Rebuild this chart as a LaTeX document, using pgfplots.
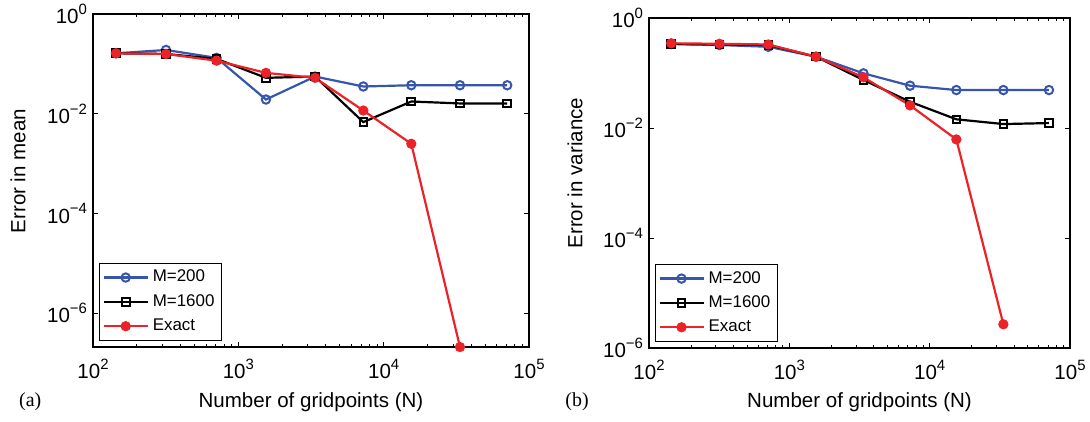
\documentclass[border=0pt]{standalone}
\usepackage{pgfplots}
\pgfplotsset{compat=1.18}
\usepackage{fontspec}
\setmainfont{Liberation Sans}
\newfontfamily\seriffont{Liberation Serif}
\definecolor{mblue}{RGB}{55,85,170}
\definecolor{mred}{RGB}{235,35,40}
\newcommand{\supx}[1]{\raisebox{0.45em}{\fontsize{7.5}{8}\selectfont #1}}
\pgfplotsset{
  every axis/.append style={
    scale only axis, clip=false,
    xmin=100, xmax=100000,
    xtick={100,1000,10000,100000},
    xticklabels={10\supx{2},10\supx{3},10\supx{4},10\supx{5}},
    ytick={1,1e-2,1e-4,1e-6},
    yticklabels={10\supx{0},10\supx{−2},10\supx{−4},10\supx{−6}},
    yminorticks=false,
    tick align=inside, major tick length=2.5bp, minor tick length=1.5bp,
    axis line style={line width=0.6bp},
    every tick/.style={black, line width=0.5bp},
    tick label style={font=\fontsize{10.3}{11}\selectfont},
    xticklabel style={yshift=-2.5bp},
    yticklabel style={xshift=0.5bp},
    label style={font=\fontsize{10.3}{12}\selectfont},
    legend style={at={(axis description cs:0.014,0.018)}, anchor=south west,
      font=\fontsize{8.5}{9.5}\selectfont, draw=black, line width=0.5bp,
      inner sep=1.5bp, row sep=0.8bp},
    legend cell align=left,
    legend image code/.code={\draw[mark repeat=2,mark phase=2] plot coordinates {(0bp,0bp) (11bp,0bp) (22bp,0bp)};},
  },
}
\tikzset{
  sblue/.style={mblue, line width=1.1bp, mark=o, mark size=2.1bp, mark options={fill=white, line width=1bp}},
  sblack/.style={black, line width=1.1bp, mark=square, mark size=1.9bp, mark options={fill=white, line width=1bp}},
  sred/.style={mred, line width=1.1bp, mark=*, mark size=2bp, mark options={fill=mred}},
}
\begin{document}
\begin{tikzpicture}[x=1bp,y=1bp]
\path[use as bounding box] (0,0) rectangle (545,-210.5);
\begin{loglogaxis}[at={(46.5bp,-7bp)}, anchor=north west, width=218bp, height=166.5bp,
  ymin=2.1e-7, ymax=1,
  xlabel={Number of gridpoints (N)}, ylabel={Error in mean},
  xlabel style={at={(axis description cs:0.5,-0.165)}, anchor=center},
  ylabel style={at={(axis description cs:-0.172,0.528)}, anchor=center},
]
\addplot[sblue] coordinates {(144,0.163) (318,0.19) (708,0.132) (1549,0.0193) (3373,0.0557) (7244,0.0352) (15488,0.0373) (33497,0.0373) (70795,0.0373)};
\addplot[sblack] coordinates {(144,0.163) (318,0.158) (708,0.126) (1549,0.0525) (3373,0.0557) (7244,0.0068) (15488,0.0176) (33497,0.0161) (70795,0.0161)};
\addplot[sred] coordinates {(144,0.163) (318,0.158) (708,0.116) (1549,0.066) (3373,0.0525) (7244,0.0116) (15488,0.0025) (33497,2.1e-7)};
\legend{M=200,M=1600,Exact}
\node[font=\seriffont\fontsize{10}{11}\selectfont] at (axis description cs:-0.144,-0.165) {(a)};
\end{loglogaxis}
\begin{loglogaxis}[at={(324.5bp,-9bp)}, anchor=north west, width=210.5bp, height=165bp,
  ymin=1e-6, ymax=1,
  xlabel={Number of gridpoints (N)}, ylabel={Error in variance},
  xlabel style={at={(axis description cs:0.5,-0.164)}, anchor=center},
  ylabel style={at={(axis description cs:-0.176,0.53)}, anchor=center},
]
\addplot[sblue] coordinates {(144,0.337) (318,0.323) (708,0.30) (1549,0.198) (3373,0.0986) (7244,0.0588) (15488,0.049) (33497,0.049) (70795,0.049)};
\addplot[sblack] coordinates {(144,0.337) (318,0.33) (708,0.323) (1549,0.198) (3373,0.0746) (7244,0.030) (15488,0.0144) (33497,0.0118) (70795,0.0123)};
\addplot[sred] coordinates {(144,0.347) (318,0.34) (708,0.33) (1549,0.198) (3373,0.0835) (7244,0.0258) (15488,0.0062) (33497,2.7e-6)};
\legend{M=200,M=1600,Exact}
\node[font=\seriffont\fontsize{10}{11}\selectfont] at (axis description cs:-0.171,-0.164) {(b)};
\end{loglogaxis}
\end{tikzpicture}
\end{document}
